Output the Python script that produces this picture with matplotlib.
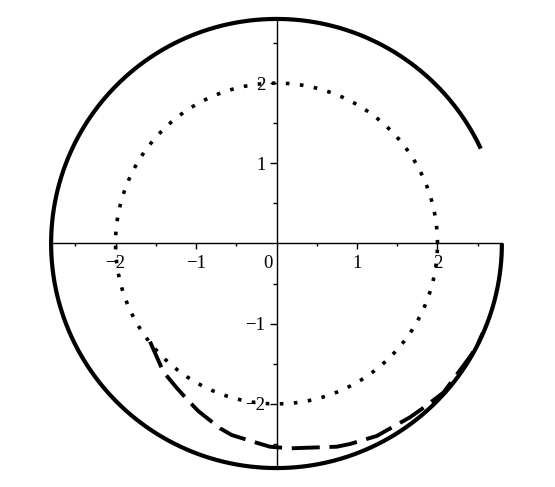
import numpy as np
import matplotlib
matplotlib.use("Agg")
import matplotlib.pyplot as plt
from matplotlib.transforms import offset_copy

plt.rcParams["font.family"] = ["Liberation Serif", "DejaVu Serif"]
plt.rcParams["axes.unicode_minus"] = True

# ---- data ----
x_tick_values = [-2, -1, 1, 2]
x_tick_labels = ["\u22122", "\u22121", "1", "2"]
y_tick_values = [-2, -1, 1, 2]
y_tick_labels = ["\u22122", "\u22121", "1", "2"]
minor_tick_values = [-2.5, -1.5, -0.5, 0.5, 1.5, 2.5]
origin_label = "0"

solid_radius = 2.8
solid_start_deg = 25.0
solid_end_deg = 360.0

dotted_radius = 2.0

dashed_x = [-1.571, -1.406, -1.240, -1.096, -0.971, -0.702, -0.557, -0.226,
            -0.081, 0.168, 0.748, 0.913, 1.245, 1.369, 1.658, 1.824, 2.072,
            2.155, 2.404, 2.487, 2.560]
dashed_y = [-1.224, -1.599, -1.800, -1.960, -2.090, -2.304, -2.388, -2.491,
            -2.534, -2.554, -2.534, -2.500, -2.400, -2.330, -2.167, -2.050,
            -1.860, -1.750, -1.411, -1.287, -1.120]

axis_limit = 2.8

# ---- figure ----
fig = plt.figure(figsize=(5.55, 4.87), dpi=100)
ax = fig.add_axes([0.0921, 0.0389, 0.8122, 0.9222])

th = np.radians(np.linspace(solid_start_deg, solid_end_deg, 600))
ax.plot(solid_radius * np.cos(th), solid_radius * np.sin(th), color="black",
        lw=3.0, solid_capstyle="butt", clip_on=False, zorder=3)

th2 = np.radians(np.linspace(0, 360, 800))
ax.plot(dotted_radius * np.cos(th2), dotted_radius * np.sin(th2), color="black",
        lw=2.6, linestyle=(0, (1, 2.9)), dash_capstyle="butt", clip_on=False,
        zorder=3)

ax.plot(dashed_x, dashed_y, color="black", lw=2.8, linestyle=(0, (7.2, 2.5)),
        dash_capstyle="butt", clip_on=False, zorder=3)

ax.set_xlim(-axis_limit, axis_limit)
ax.set_ylim(-axis_limit, axis_limit)

for s in ("top", "right"):
    ax.spines[s].set_visible(False)
for s in ("left", "bottom"):
    ax.spines[s].set_position(("data", 0))
    ax.spines[s].set_linewidth(1.0)

ax.set_xticks(x_tick_values)
ax.set_xticklabels(x_tick_labels)
ax.set_yticks(y_tick_values)
ax.set_yticklabels(y_tick_labels)
ax.set_xticks(minor_tick_values, minor=True)
ax.set_yticks(minor_tick_values, minor=True)

ax.tick_params(axis="x", which="major", direction="out", length=4, width=1,
               pad=4, labelsize=13.5)
ax.tick_params(axis="x", which="minor", direction="out", length=2.4, width=1)
ax.tick_params(axis="y", which="major", direction="out", length=5, width=1,
               pad=3, labelsize=13.5)
ax.tick_params(axis="y", which="minor", direction="out", length=2.9, width=1)

ax.text(0, 0, origin_label, fontsize=13.5, ha="center", va="top",
        transform=offset_copy(ax.transData, fig, x=-6, y=-8, units="points"))

ax.patch.set_visible(False)
fig.savefig("out.png", dpi=100, facecolor="white")
